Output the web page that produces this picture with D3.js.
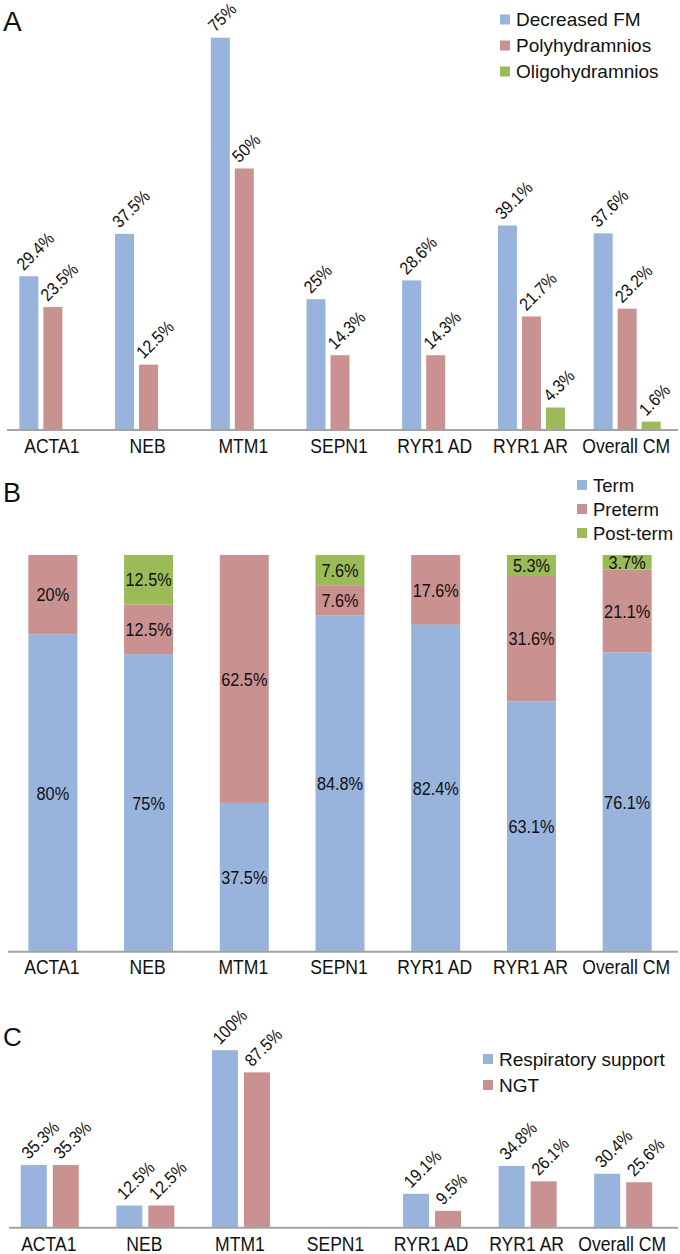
<!DOCTYPE html>
<html>
<head>
<meta charset="utf-8">
<script src="https://cdn.jsdelivr.net/npm/d3@7/dist/d3.min.js"></script>
<style>
  html, body { margin: 0; padding: 0; background: #fff; }
  svg { display: block; font-family: "Liberation Sans", Arial, Helvetica, sans-serif; }
</style>
</head>
<body>
<svg id="chart" width="680" height="1254"></svg>
<script>
// ---------- DATA ----------
const categories = ["ACTA1", "NEB", "MTM1", "SEPN1", "RYR1 AD", "RYR1 AR", "Overall CM"];

// Panel A
const seriesA = ["Decreased FM", "Polyhydramnios", "Oligohydramnios"];
const decreasedFM     = [29.4, 37.5, 75, 25, 28.6, 39.1, 37.6];
const polyhydramnios  = [23.5, 12.5, 50, 14.3, 14.3, 21.7, 23.2];
const oligohydramnios = [null, null, null, null, null, 4.3, 1.6];

// Panel B (100% stacked)
const seriesB = ["Term", "Preterm", "Post-term"];
const term     = [80, 75, 37.5, 84.8, 82.4, 63.1, 76.1];
const preterm  = [20, 12.5, 62.5, 7.6, 17.6, 31.6, 21.1];
const postterm = [0, 12.5, 0, 7.6, 0, 5.3, 3.7];

// Panel C
const seriesC = ["Respiratory support", "NGT"];
const respiratory = [35.3, 12.5, 100, null, 19.1, 34.8, 30.4];
const ngt         = [35.3, 12.5, 87.5, null, 9.5, 26.1, 25.6];

// ---------- STYLE ----------
const colors = ["#98B3DC", "#C99190", "#9BBB59"];
const axisColor = "#A3A3A3";
const textColor = "#111";
const narrow = 0.9;           // horizontal squeeze of chart text
const fmt = v => v + "%";

const svg = d3.select("#chart");

function panelLetter(txt, y, size) {
  svg.append("text").attr("x", 3).attr("y", y)
    .attr("font-size", size).attr("fill", textColor).text(txt);
}

function drawAxis(x, yBase, labelY, x0, x1) {
  svg.append("line").attr("x1", x0).attr("x2", x1)
    .attr("y1", yBase).attr("y2", yBase)
    .attr("stroke", axisColor).attr("stroke-width", 2);
  svg.append("g").selectAll("text").data(categories).join("text")
    .attr("transform", d => `translate(${x(d) + x.bandwidth() / 2 - 1},${labelY}) scale(${narrow},1)`)
    .attr("text-anchor", "middle")
    .attr("font-size", 19.5)
    .attr("fill", textColor)
    .text(d => d);
}

function legend(names, xSq, yCenters, size, sq) {
  const g = svg.append("g");
  names.forEach((n, i) => {
    g.append("rect").attr("x", xSq).attr("y", yCenters[i] - sq / 2)
      .attr("width", sq).attr("height", sq).attr("fill", colors[i]);
    g.append("text").attr("x", xSq + sq + 6).attr("y", yCenters[i])
      .attr("dy", "0.36em").attr("font-size", size).attr("fill", textColor).text(n);
  });
}

// grouped bars helper
function groupedPanel(seriesNames, seriesVals, opts) {
  const x = d3.scaleBand().domain(categories).range(opts.xRange);
  const sub = d3.scaleBand().domain(seriesNames)
    .range([-opts.span / 2, opts.span / 2]).paddingInner(opts.subPad);
  const y = d3.scaleLinear().domain(opts.yDomain).range(opts.yRange);
  const rows = [];
  seriesNames.forEach((s, si) => {
    categories.forEach((c, ci) => {
      const v = seriesVals[si][ci];
      if (v !== null && v !== undefined) rows.push({ s, si, c, v });
    });
  });
  const g = svg.append("g");
  g.selectAll("rect").data(rows).join("rect")
    .attr("x", d => x(d.c) + x.bandwidth() / 2 + sub(d.s))
    .attr("y", d => y(d.v))
    .attr("width", sub.bandwidth())
    .attr("height", d => y(0) - y(d.v))
    .attr("fill", d => colors[d.si]);
  g.selectAll("text.lbl").data(rows).join("text")
    .attr("class", "lbl")
    .attr("transform", d => {
      const cx = x(d.c) + x.bandwidth() / 2 + sub(d.s) + sub.bandwidth() / 2;
      return `translate(${cx - 5},${y(d.v) - 5}) rotate(-45) scale(${narrow},1)`;
    })
    .attr("font-size", opts.labelSize)
    .attr("fill", textColor)
    .text(d => fmt(d.v));
  drawAxis(x, y(0), opts.axisLabelY, opts.axisX[0], opts.axisX[1]);
}

// ---------- PANEL A ----------
panelLetter("A", 31, 28);
groupedPanel(seriesA, [decreasedFM, polyhydramnios, oligohydramnios], {
  xRange: [5, 675], span: 67, subPad: 5 / 24,
  yDomain: [0, 75], yRange: [430, 37.7],
  labelSize: 17.5, axisLabelY: 453, axisX: [7, 678]
});
legend(seriesA, 500, [19.5, 45.5, 71.5], 19, 10);

// ---------- PANEL B ----------
panelLetter("B", 502, 27);
{
  const x = d3.scaleBand().domain(categories).range([5, 675]);
  const y = d3.scaleLinear().domain([0, 1]).range([951.7, 555]);
  const table = categories.map((c, i) => ({
    cat: c, "Term": term[i], "Preterm": preterm[i], "Post-term": postterm[i]
  }));
  const stacked = d3.stack().keys(seriesB).offset(d3.stackOffsetExpand)(table);
  const barW = 49;
  const g = svg.append("g");
  stacked.forEach((layer, li) => {
    g.append("g").selectAll("rect").data(layer).join("rect")
      .attr("x", d => x(d.data.cat) + x.bandwidth() / 2 - barW / 2)
      .attr("y", d => y(d[1]))
      .attr("width", barW)
      .attr("height", d => y(d[0]) - y(d[1]))
      .attr("fill", colors[li]);
    g.append("g").selectAll("text").data(layer.filter(d => d.data[layer.key] > 0)).join("text")
      .attr("transform", d => `translate(${x(d.data.cat) + x.bandwidth() / 2},${(y(d[0]) + y(d[1])) / 2}) scale(0.88,1)`)
      .attr("dy", "0.36em")
      .attr("text-anchor", "middle")
      .attr("font-size", 18.5)
      .attr("fill", textColor)
      .text(d => fmt(d.data[layer.key]));
  });
  drawAxis(x, y(0), 974, 8, 678);
}
legend(seriesB, 577, [485, 509, 533], 18.5, 10);

// ---------- PANEL C ----------
panelLetter("C", 1046, 26);
groupedPanel(seriesC, [respiratory, ngt], {
  xRange: [2, 671], span: 58, subPad: 6 / 32,
  yDomain: [0, 100], yRange: [1227.7, 1050.2],
  labelSize: 17.5, axisLabelY: 1251, axisX: [9, 678]
});
legend(seriesC, 483, [1059, 1085], 19, 10);
</script>
</body>
</html>
